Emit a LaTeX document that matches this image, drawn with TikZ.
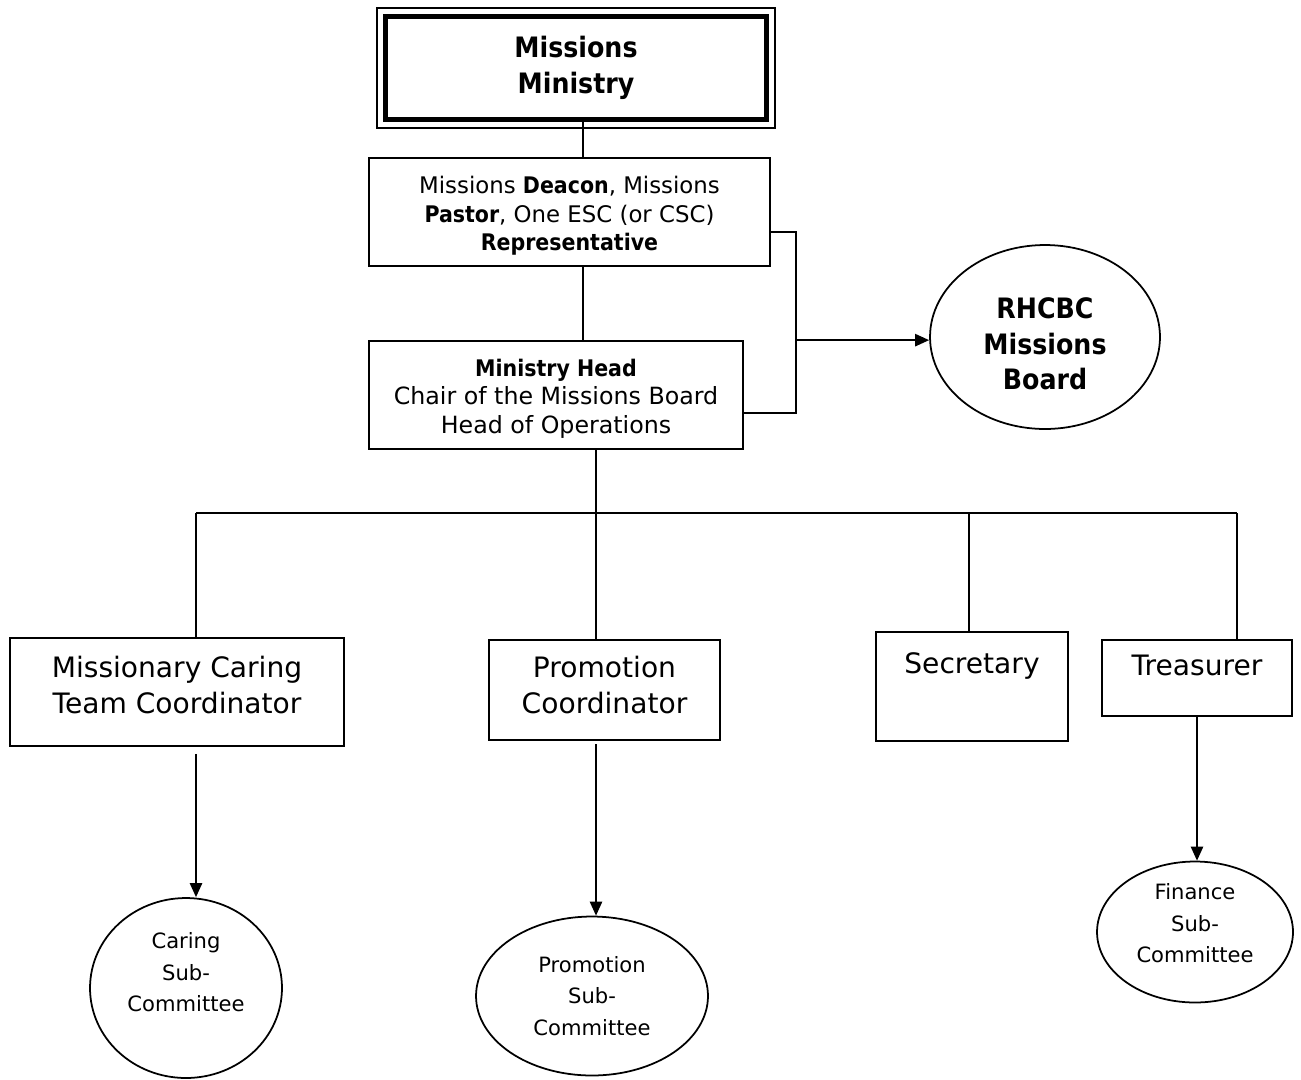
\documentclass[tikz,border=0pt]{standalone}
\usepackage{fontspec}
\setmainfont{DejaVu Sans}[BoldFont={DejaVu Sans Condensed Bold}]
\usetikzlibrary{shapes.geometric,arrows.meta}

\begin{document}
\begin{tikzpicture}[x=0.02cm,y=-0.02cm]
        \tikzset{box/.style={draw,line width=1pt,align=center,inner sep=0pt},
                 oval/.style={draw,ellipse,line width=1pt,align=center,inner sep=0pt},
                 link/.style={line width=1pt},
                 feed/.style={line width=1pt,-{Triangle[length=8pt,width=7pt]}},
                 big/.style={font=\fontsize{16}{20.4}\selectfont},
                 bigbold/.style={font=\fontsize{16}{20.4}\selectfont\bfseries},
                 small/.style={font=\fontsize{13}{16.4}\selectfont},
                 sub/.style={font=\fontsize{12}{18}\selectfont}}
        \useasboundingbox (0,0) rectangle (1301,1079);

        % top of the chart
        \node[draw,line width=1pt,minimum width=7.96cm,minimum height=2.4cm] (frame) at (576,68) {};
        \node[box,bigbold,line width=2.8pt,minimum width=7.62cm,minimum height=2.06cm]
              (ministry) at (576,68) {Missions\\Ministry};

        \node[box,small,minimum width=8.02cm,minimum height=2.16cm] (deacon) at (569.5,212)
              {\mbox{}\\[-2.3pt]Missions \textbf{Deacon}, Missions\\\textbf{Pastor}, One ESC (or CSC)\\\textbf{Representative}};

        \node[box,small,minimum width=7.48cm,minimum height=2.16cm] (head) at (556,395)
              {\mbox{}\\[-2.3pt]\textbf{Ministry Head}\\\fontsize{13.5}{16.4}\selectfont Chair of the Missions Board\\\fontsize{13.5}{16.4}\selectfont Head of Operations};

        \node[oval,bigbold,minimum width=4.6cm,minimum height=3.68cm] (board) at (1045,337)
              {\mbox{}\\[-0.7pt]RHCBC\\Missions\\Board};

        % coordinators
        \node[box,big,minimum width=6.68cm,minimum height=2.16cm] (mct) at (177,692)
              {Missionary Caring\\Team Coordinator\\[-12.4pt]\mbox{}};
        \node[box,big,minimum width=4.62cm,minimum height=2cm] (pc) at (604.5,690)
              {Promotion\\Coordinator\\[-14.8pt]\mbox{}};
        \node[box,big,minimum width=3.84cm,minimum height=2.18cm] (sec) at (972,686.5)
              {Secretary\\[6pt]\mbox{}};
        \node[box,big,minimum width=3.8cm,minimum height=1.52cm] (tre) at (1197,678)
              {Treasurer\\[-5.6pt]\mbox{}};

        % sub-committees
        \node[oval,sub,minimum width=3.84cm,minimum height=3.6cm] (caring) at (186,988)
              {Caring\\Sub-\\Committee\\\mbox{}};
        \node[oval,sub,minimum width=4.64cm,minimum height=3.18cm] (pcs) at (592,996)
              {Promotion\\Sub-\\Committee};
        \node[oval,sub,minimum width=3.92cm,minimum height=2.82cm] (fin) at (1195,932)
              {Finance\\Sub-\\Committee\\[-8pt]\mbox{}};

        % connectors
        \coordinate (spine) at (583,0);
        \coordinate (railtop) at (796,232);
        \coordinate (railbot) at (796,413);
        \draw[link] (ministry.south -| spine) -- (deacon.north -| spine);
        \draw[link] (deacon.south -| spine) -- (head.north -| spine);
        \draw[link] (deacon.east |- railtop) -- (railtop) -- (railbot) -- (head.east |- railbot);
        \draw[feed] (railtop |- head.north) -- (board.west |- head.north);

        \coordinate (busL) at (196,513);
        \coordinate (busR) at (1237,513);
        \draw[link] (head.south -| 596,0) -- (596,513);
        \draw[link] (busL) -- (busR);
        \foreach \n/\x in {mct/196,pc/596,sec/969,tre/1237}
            \draw[link] (\x,513) -- (\n.north -| \x,513);

        \draw[feed,shorten <=4pt] (mct.south -| busL) -- (caring.north -| busL);
        \draw[feed,shorten <=2pt] (pc.south -| 596,0) -- (pcs.north -| 596,0);
        \draw[feed] (tre.south) -- (tre.south |- fin.north);
\end{tikzpicture}
\end{document}
